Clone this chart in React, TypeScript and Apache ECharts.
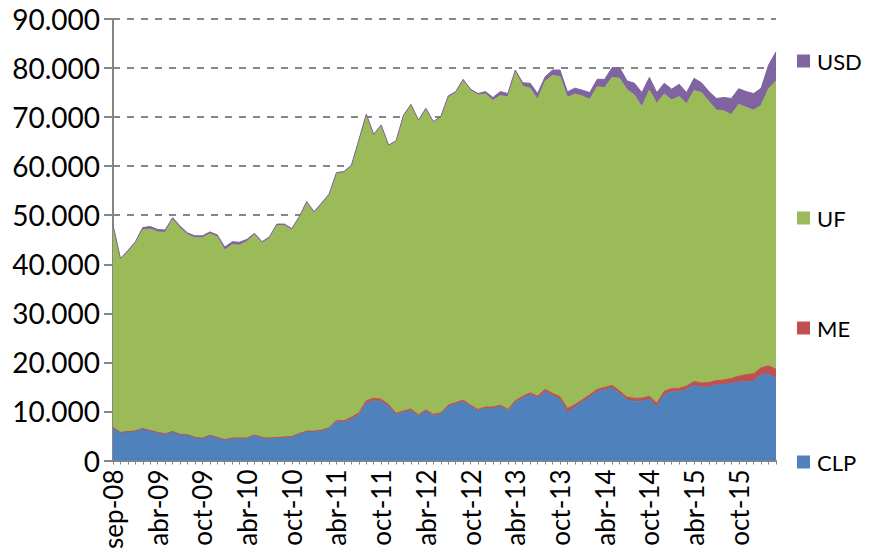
import React, { useEffect, useRef } from "react";
import * as echarts from "echarts";

const categories = [
  "sep-08", "nov-08", "dic-08",
  "ene-09", "feb-09", "mar-09", "abr-09", "may-09", "jun-09", "jul-09", "ago-09", "sep-09", "oct-09", "nov-09", "dic-09",
  "ene-10", "feb-10", "mar-10", "abr-10", "may-10", "jun-10", "jul-10", "ago-10", "sep-10", "oct-10", "nov-10", "dic-10",
  "ene-11", "feb-11", "mar-11", "abr-11", "may-11", "jun-11", "jul-11", "ago-11", "sep-11", "oct-11", "nov-11", "dic-11",
  "ene-12", "feb-12", "mar-12", "abr-12", "may-12", "jun-12", "jul-12", "ago-12", "sep-12", "oct-12", "nov-12", "dic-12",
  "ene-13", "feb-13", "mar-13", "abr-13", "may-13", "jun-13", "jul-13", "ago-13", "sep-13", "oct-13", "nov-13", "dic-13",
  "ene-14", "feb-14", "mar-14", "abr-14", "may-14", "jun-14", "jul-14", "ago-14", "sep-14", "oct-14", "nov-14", "dic-14",
  "ene-15", "feb-15", "mar-15", "abr-15", "may-15", "jun-15", "jul-15", "ago-15", "sep-15", "oct-15", "nov-15", "dic-15",
  "ene-16", "feb-16", "mar-16",
];

// values in thousands
const clp = [
  6.7, 5.7, 5.9, 6.0, 6.5, 6.1, 5.7, 5.4, 5.9, 5.3,
  5.2, 4.7, 4.5, 5.1, 4.7, 4.2, 4.5, 4.5, 4.5, 5.1,
  4.6, 4.5, 4.6, 4.7, 4.8, 5.4, 5.9, 5.9, 6.1, 6.5,
  7.9, 7.8, 8.4, 9.3, 11.7, 12.2, 12.0, 11.0, 9.3, 9.8,
  10.2, 9.0, 10.0, 9.1, 9.4, 11.0, 11.5, 12.0, 11.0, 10.1,
  10.6, 10.6, 11.0, 10.1, 11.8, 12.7, 13.4, 12.7, 14.0, 13.2,
  12.5, 9.7, 10.9, 11.9, 12.9, 14.0, 14.4, 14.8, 13.7, 12.3,
  12.1, 12.1, 12.5, 11.0, 13.4, 14.0, 14.0, 14.5, 15.3, 15.0,
  15.0, 15.4, 15.5, 15.7, 16.0, 16.1, 16.2, 17.5, 17.6, 16.8,
];

const me = [
  0, 0, 0, 0, 0, 0, 0, 0, 0, 0,
  0, 0, 0, 0, 0, 0, 0.1, 0.1, 0.1, 0.1,
  0.1, 0.1, 0.1, 0.1, 0.1, 0.1, 0.1, 0.1, 0.1, 0.2,
  0.3, 0.3, 0.4, 0.4, 0.5, 0.5, 0.5, 0.4, 0.3, 0.3,
  0.3, 0.3, 0.3, 0.3, 0.3, 0.3, 0.3, 0.3, 0.3, 0.3,
  0.3, 0.3, 0.3, 0.3, 0.4, 0.4, 0.4, 0.4, 0.5, 0.5,
  0.5, 0.9, 0.5, 0.5, 0.5, 0.5, 0.5, 0.5, 0.5, 0.6,
  0.6, 0.6, 0.6, 0.7, 0.7, 0.7, 0.7, 0.7, 0.8, 0.8,
  0.9, 0.9, 0.9, 1.0, 1.2, 1.4, 1.5, 1.4, 1.7, 1.8,
];

const uf = [
  41.0, 35.2, 36.6, 38.3, 40.5, 41.1, 40.9, 41.1, 43.2, 42.1,
  40.8, 40.7, 40.9, 41.1, 40.9, 38.7, 39.4, 39.3, 40.1, 40.8,
  39.6, 40.7, 43.2, 43.1, 42.1, 43.9, 46.5, 44.4, 46.0, 47.3,
  50.3, 50.6, 51.2, 55.4, 58.2, 53.6, 55.7, 52.7, 55.4, 60.1,
  61.9, 59.9, 61.3, 59.5, 60.2, 62.7, 63.1, 65.1, 64.1, 64.1,
  63.8, 62.5, 63.1, 63.7, 67.1, 63.2, 62.1, 60.5, 62.8, 64.8,
  65.3, 63.4, 63.3, 61.9, 60.2, 61.7, 61.1, 62.8, 63.7, 62.7,
  61.8, 59.4, 62.4, 61.1, 60.6, 58.8, 59.5, 57.5, 59.3, 59.2,
  57.3, 55.1, 54.9, 53.8, 55.4, 54.5, 53.7, 53.5, 56.5, 58.8,
];

const usd = [
  0.3, 0.3, 0.3, 0.3, 0.5, 0.5, 0.5, 0.5, 0.4, 0.4,
  0.4, 0.4, 0.4, 0.4, 0.4, 0.6, 0.6, 0.6, 0.4, 0.3,
  0.3, 0.3, 0.3, 0.3, 0.3, 0.3, 0.3, 0.3, 0.3, 0.3,
  0.2, 0.2, 0.2, 0.2, 0.2, 0.2, 0.2, 0.2, 0.2, 0.2,
  0.2, 0.2, 0.2, 0.2, 0.2, 0.3, 0.3, 0.3, 0.3, 0.3,
  0.5, 0.6, 0.8, 0.7, 0.3, 0.7, 1.0, 1.2, 0.9, 1.1,
  1.3, 1.15, 1.2, 1.2, 1.4, 1.5, 1.7, 2.0, 2.2, 1.8,
  2.4, 2.9, 2.6, 2.2, 2.2, 2.2, 2.5, 2.3, 2.5, 2.0,
  2.0, 2.4, 2.7, 3.3, 3.2, 3.2, 3.4, 3.5, 4.8, 5.9,
];

const seriesNames = ["CLP", "ME", "UF", "USD"];
const seriesColors = ["#4F81BD", "#C0504D", "#9BBB59", "#8064A2"];
const seriesData = [clp, me, uf, usd];

const legendOrder = ["USD", "UF", "ME", "CLP"];
const legendTops = [45, 202, 312, 446];

const FONT = "Lato, 'Open Sans', sans-serif";

export default function App() {
  const ref = useRef<HTMLDivElement>(null);

  useEffect(() => {
    if (!ref.current) return;
    const chart = echarts.init(ref.current, null, { renderer: "svg" });
    chart.setOption({
      animation: false,
      backgroundColor: "#ffffff",
      textStyle: { fontFamily: FONT },
      grid: { left: 113, right: 107, top: 19, bottom: 94.5, containLabel: false },
      legend: legendOrder.map((name, k) => ({
        data: [name],
        orient: "vertical",
        left: 792,
        top: legendTops[k],
        icon: "rect",
        itemWidth: 13,
        itemHeight: 13,
        selectedMode: false,
        textStyle: { fontFamily: FONT, fontSize: 22, color: "#000000", padding: [0, 0, 0, 2] },
      })),
      xAxis: {
        type: "category",
        data: categories,
        boundaryGap: false,
        axisLine: { lineStyle: { color: "#868686", width: 2 } },
        axisTick: { show: true, interval: 0, length: 4, lineStyle: { color: "#868686", width: 1 } },
        axisLabel: {
          interval: 5,
          rotate: 90,
          margin: 9,
          fontFamily: FONT,
          fontSize: 26,
          color: "#000000",
        },
        splitLine: { show: false },
      },
      yAxis: {
        type: "value",
        min: 0,
        max: 90,
        interval: 10,
        axisLine: { show: true, lineStyle: { color: "#868686", width: 2 } },
        axisTick: { show: true, length: 9, lineStyle: { color: "#868686", width: 2 } },
        axisLabel: {
          margin: 13,
          fontFamily: FONT,
          fontSize: 28,
          color: "#000000",
          formatter: (v: number) => (v === 0 ? "0" : v + ".000"),
        },
        splitLine: { show: true, lineStyle: { color: "#868686", width: 2, type: [7, 7] } },
      },
      series: seriesNames.map((name, k) => ({
        name,
        type: "line",
        stack: "total",
        data: seriesData[k],
        symbol: "none",
        smooth: false,
        lineStyle: { color: seriesColors[k], width: 1 },
        itemStyle: { color: seriesColors[k] },
        areaStyle: { color: seriesColors[k], opacity: 1 },
        z: 2,
      })),
    });
    return () => chart.dispose();
  }, []);

  return (
    <div
      ref={ref}
      style={{ position: "fixed", left: 0, top: 0, width: 883, height: 555 }}
    />
  );
}
